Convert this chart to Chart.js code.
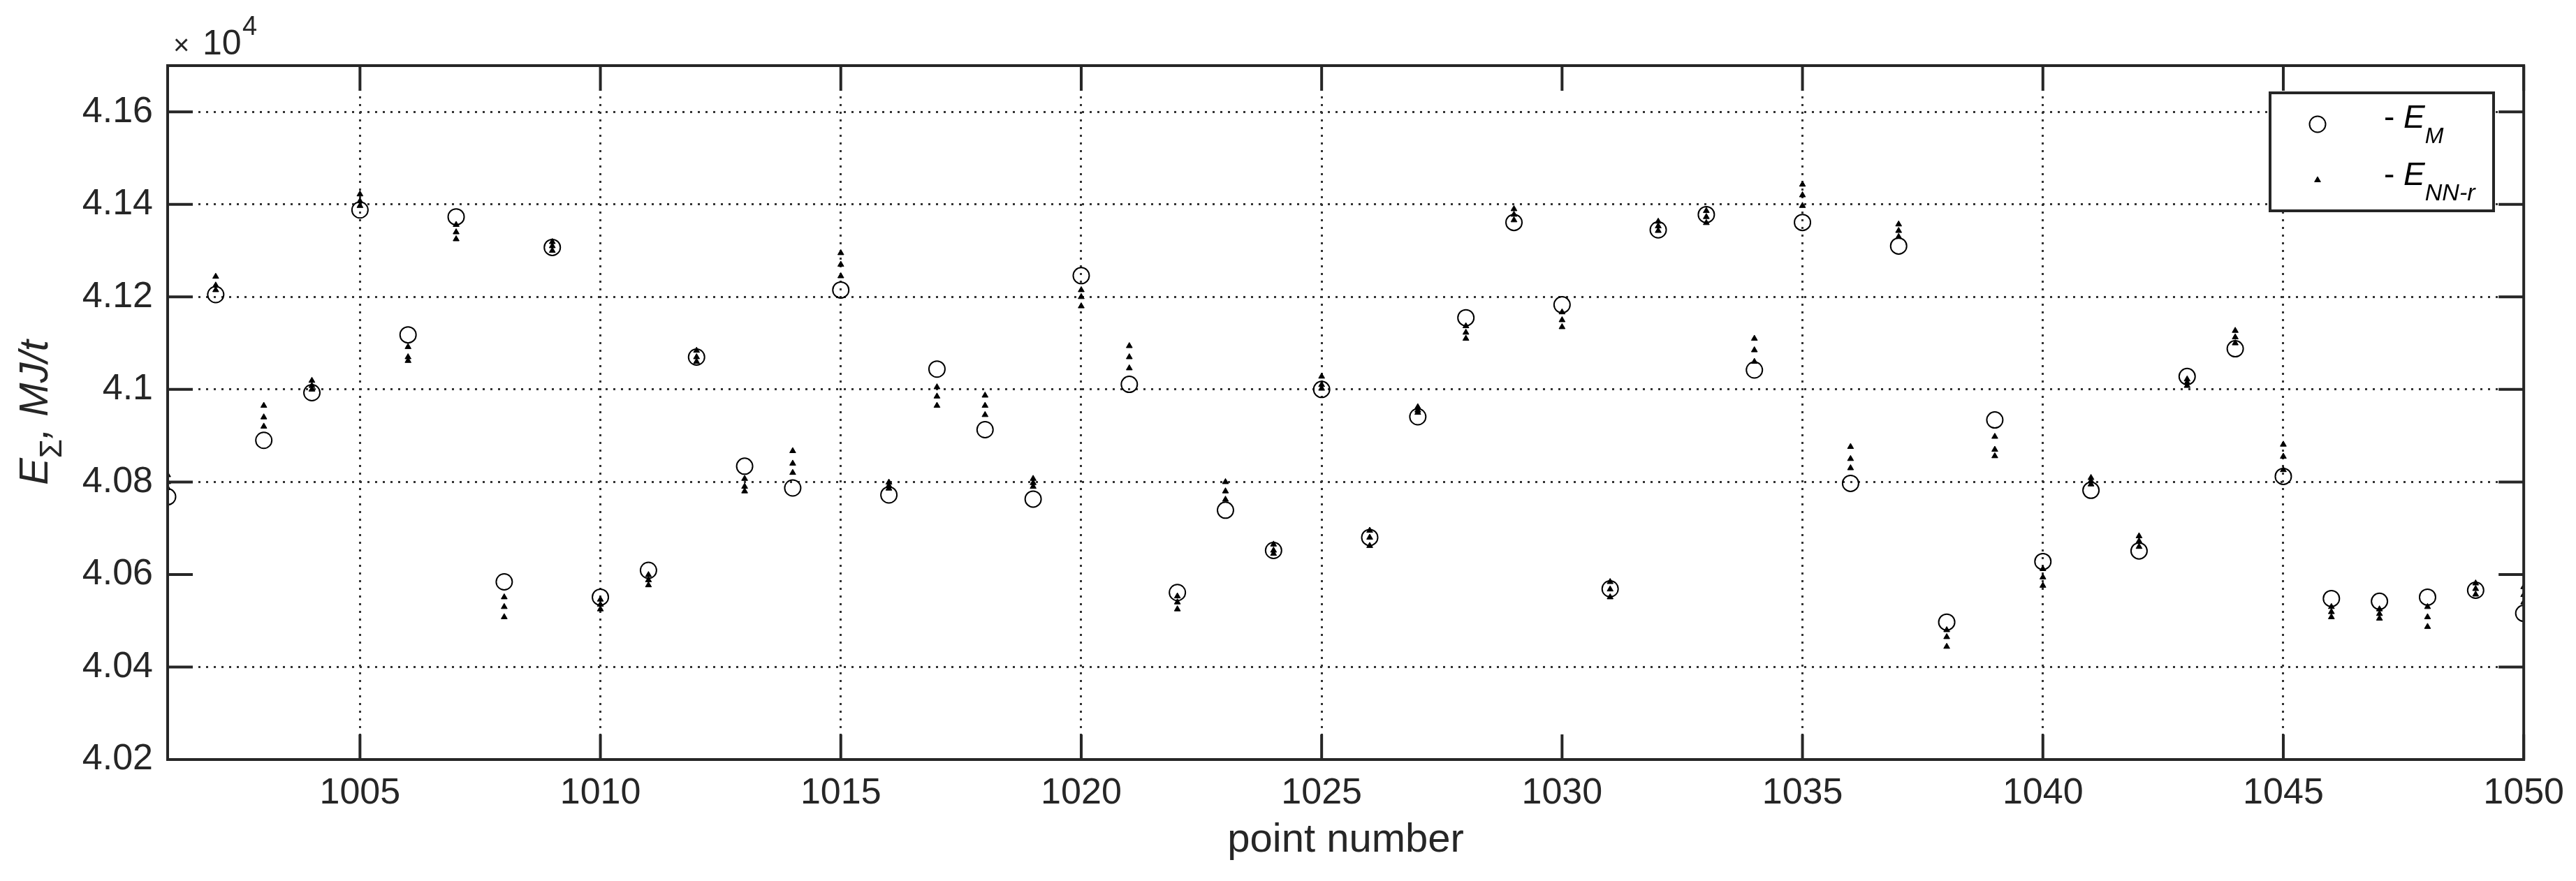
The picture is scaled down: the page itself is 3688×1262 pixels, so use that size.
<!DOCTYPE html>
<html>
<head>
<meta charset="utf-8">
<script src="https://cdn.jsdelivr.net/npm/chart.js@4.4.1/dist/chart.umd.min.js"></script>
<style>
  html, body { margin: 0; padding: 0; background: #fff; }
  #wrap { width: 3688px; height: 1262px; }
</style>
</head>
<body>
<div id="wrap"><canvas id="chart" width="3688" height="1262"></canvas></div>
<script>
// point numbers on the x axis
const pointNumbers = [1001, 1002, 1003, 1004, 1005, 1006, 1007, 1008, 1009, 1010,
    1011, 1012, 1013, 1014, 1015, 1016, 1017, 1018, 1019, 1020,
    1021, 1022, 1023, 1024, 1025, 1026, 1027, 1028, 1029, 1030,
    1031, 1032, 1033, 1034, 1035, 1036, 1037, 1038, 1039, 1040,
    1041, 1042, 1043, 1044, 1045, 1046, 1047, 1048, 1049, 1050];

// E_M, MJ/t (measured)
const eMeasured = [40768, 41205, 40890, 40993, 41388, 41118, 41373, 40584, 41307, 40551,
    40609, 41070, 40834, 40787, 41215, 40772, 41044, 40913, 40763, 41246,
    41011, 40561, 40739, 40652, 41000, 40680, 40941, 41155, 41361, 41183,
    40569, 41345, 41378, 41042, 41361, 40797, 41310, 40497, 40934, 40628,
    40782, 40651, 41028, 41088, 40812, 40548, 40542, 40551, 40566, 40516];

// E_NN-r, MJ/t: three network runs per point
const eNetRun1 = [40815, 41244, 40965, 41019, 41422, 41092, 41356, 40551, 41319, 40546,
    40599, 41084, 40807, 40867, 41295, 40799, 41005, 40987, 40807, 41215,
    41094, 40553, 40800, 40665, 41028, 40695, 40962, 41137, 41390, 41167,
    40584, 41363, 41386, 41110, 41443, 40876, 41357, 40480, 40898, 40612,
    40809, 40683, 41022, 41127, 40881, 40530, 40525, 40530, 40581, 40573];
const eNetRun2 = [40800, 41225, 40940, 41008, 41407, 41070, 41340, 40530, 41310, 40535,
    40588, 41070, 40790, 40840, 41270, 40792, 40985, 40965, 40798, 41200,
    41070, 40540, 40780, 40652, 41010, 40680, 40955, 41123, 41378, 41150,
    40568, 41353, 41373, 41085, 41420, 40850, 41343, 40465, 40870, 40594,
    40802, 40672, 41015, 41113, 40855, 40519, 40515, 40508, 40569, 40556];
const eNetRun3 = [40787, 41215, 40920, 41000, 41397, 41062, 41325, 40508, 41300, 40525,
    40577, 41060, 40780, 40820, 41245, 40786, 40965, 40945, 40790, 41180,
    41046, 40525, 40762, 40645, 41002, 40662, 40950, 41110, 41366, 41135,
    40551, 41343, 41360, 41060, 41397, 40830, 41330, 40444, 40856, 40576,
    40795, 40660, 41008, 41100, 40826, 40508, 40505, 40487, 40557, 40540];

// tick values
const xTickValues = [1005, 1010, 1015, 1020, 1025, 1030, 1035, 1040, 1045, 1050];
const yTickValues = [40200, 40400, 40600, 40800, 41000, 41200, 41400, 41600];
// grid lines that are not drawn in the original figure
const xGridHidden = [1030];
const yGridHidden = [40600];

const axisColor = '#262626';
const fontFamily = '"Liberation Sans", Arial, sans-serif';

function toPoints(values) {
    return pointNumbers.map((n, i) => ({ x: n, y: values[i] }));
}

const netDataset = (values) => ({
    data: toPoints(values),
    pointStyle: 'triangle',
    pointRadius: 5,
    pointBackgroundColor: '#000',
    pointBorderColor: '#000',
    pointBorderWidth: 1,
    showLine: false,
    order: 0
});

function drawSubText(ctx, x, y, parts) {
    // parts: [{text, font, dy}]
    let cx = x;
    for (const p of parts) {
        ctx.font = p.font;
        ctx.fillText(p.text, cx, y + (p.dy || 0));
        cx += ctx.measureText(p.text).width;
    }
    return cx;
}

function partsWidth(ctx, parts) {
    let w = 0;
    for (const p of parts) {
        ctx.font = p.font;
        w += ctx.measureText(p.text).width;
    }
    return w;
}

const frame = {
    id: 'frame',
    afterDraw(chart) {
        const ctx = chart.ctx;
        const a = chart.chartArea;
        const xs = chart.scales.x;
        const ys = chart.scales.y;
        const tl = 36;

        ctx.save();
        ctx.strokeStyle = axisColor;
        ctx.lineWidth = 4;
        ctx.lineCap = 'butt';
        // inward ticks on all four sides
        ctx.beginPath();
        xTickValues.forEach(v => {
            const px = xs.getPixelForValue(v);
            ctx.moveTo(px, a.bottom); ctx.lineTo(px, a.bottom - tl);
            ctx.moveTo(px, a.top); ctx.lineTo(px, a.top + tl);
        });
        yTickValues.forEach(v => {
            const py = ys.getPixelForValue(v);
            ctx.moveTo(a.left, py); ctx.lineTo(a.left + tl, py);
            ctx.moveTo(a.right, py); ctx.lineTo(a.right - tl, py);
        });
        ctx.stroke();
        ctx.strokeRect(a.left, a.top, a.right - a.left, a.bottom - a.top);

        // exponent label
        ctx.fillStyle = axisColor;
        ctx.textBaseline = 'alphabetic';
        ctx.textAlign = 'left';
        ctx.font = '40px ' + fontFamily;
        ctx.fillText('\u00d7', a.left + 8, 78);
        ctx.font = '50px ' + fontFamily;
        ctx.fillText('10', a.left + 50, 78);
        ctx.font = '38px ' + fontFamily;
        ctx.fillText('4', a.left + 107, 50);

        // y axis title: E_Σ, MJ/t
        const yParts = [
            { text: 'E', font: 'italic 58px ' + fontFamily },
            { text: '\u03a3', font: '44px ' + fontFamily, dy: 20 },
            { text: ', MJ/t', font: 'italic 58px ' + fontFamily }
        ];
        const yw = partsWidth(ctx, yParts);
        ctx.save();
        ctx.translate(68, (a.top + a.bottom) / 2);
        ctx.rotate(-Math.PI / 2);
        drawSubText(ctx, -yw / 2, 0, yParts);
        ctx.restore();

        // legend
        const lx = 3250, ly = 133, lw = 320, lh = 169;
        ctx.fillStyle = '#fff';
        ctx.fillRect(lx, ly, lw, lh);
        ctx.strokeStyle = axisColor;
        ctx.lineWidth = 4;
        ctx.strokeRect(lx, ly, lw, lh);

        ctx.strokeStyle = '#000';
        ctx.fillStyle = 'rgba(0,0,0,0)';
        ctx.lineWidth = 2;
        Chart.helpers.drawPoint(ctx, { pointStyle: 'circle', radius: 11.5, rotation: 0, borderWidth: 2 }, lx + 68, ly + 45);
        ctx.fillStyle = '#000';
        ctx.lineWidth = 1;
        Chart.helpers.drawPoint(ctx, { pointStyle: 'triangle', radius: 5, rotation: 0, borderWidth: 1 }, lx + 68, ly + 125);

        ctx.fillStyle = '#000';
        ctx.textBaseline = 'alphabetic';
        drawSubText(ctx, lx + 163, ly + 50, [
            { text: '- ', font: '46px ' + fontFamily },
            { text: 'E', font: 'italic 46px ' + fontFamily },
            { text: 'M', font: 'italic 32px ' + fontFamily, dy: 22 }
        ]);
        drawSubText(ctx, lx + 163, ly + 132, [
            { text: '- ', font: '46px ' + fontFamily },
            { text: 'E', font: 'italic 46px ' + fontFamily },
            { text: 'NN-r', font: 'italic 34px ' + fontFamily, dy: 22 }
        ]);
        ctx.restore();
    }
};

new Chart(document.getElementById('chart'), {
    type: 'scatter',
    data: {
        datasets: [
            netDataset(eNetRun1),
            netDataset(eNetRun2),
            netDataset(eNetRun3),
            {
                data: toPoints(eMeasured),
                pointStyle: 'circle',
                pointRadius: 11.5,
                pointBackgroundColor: 'rgba(0,0,0,0)',
                pointBorderColor: '#000',
                pointBorderWidth: 2,
                showLine: false,
                order: 1
            }
        ]
    },
    options: {
        responsive: false,
        animation: false,
        events: [],
        layout: { padding: { left: 0, top: 94, right: 72, bottom: 0 } },
        plugins: {
            legend: { display: false },
            tooltip: { enabled: false }
        },
        scales: {
            x: {
                type: 'linear',
                min: 1001,
                max: 1050,
                afterBuildTicks: (scale) => { scale.ticks = xTickValues.map(v => ({ value: v })); },
                afterFit: (scale) => { scale.height = 174; },
                grid: {
                    drawTicks: false,
                    lineWidth: 3,
                    color: (c) => (c.tick && xGridHidden.includes(c.tick.value)) ? 'rgba(0,0,0,0)' : '#333'
                },
                border: { display: false, dash: [3, 8] },
                ticks: {
                    padding: 17,
                    color: axisColor,
                    font: { family: fontFamily, size: 52 },
                    maxRotation: 0,
                    callback: (v) => String(v)
                },
                title: {
                    display: true,
                    text: 'point number',
                    color: axisColor,
                    font: { family: fontFamily, size: 58 },
                    padding: { top: 0, bottom: 23 }
                }
            },
            y: {
                type: 'linear',
                min: 40200,
                max: 41700,
                afterBuildTicks: (scale) => { scale.ticks = yTickValues.map(v => ({ value: v })); },
                afterFit: (scale) => { scale.width = 240; },
                grid: {
                    drawTicks: false,
                    lineWidth: 3,
                    color: (c) => (c.tick && yGridHidden.includes(c.tick.value)) ? 'rgba(0,0,0,0)' : '#333'
                },
                border: { display: false, dash: [3, 8] },
                ticks: {
                    padding: 21,
                    color: axisColor,
                    font: { family: fontFamily, size: 52 },
                    callback: (v) => String(Number((v / 10000).toFixed(2)))
                }
            }
        }
    },
    plugins: [frame]
});
</script>
</body>
</html>
